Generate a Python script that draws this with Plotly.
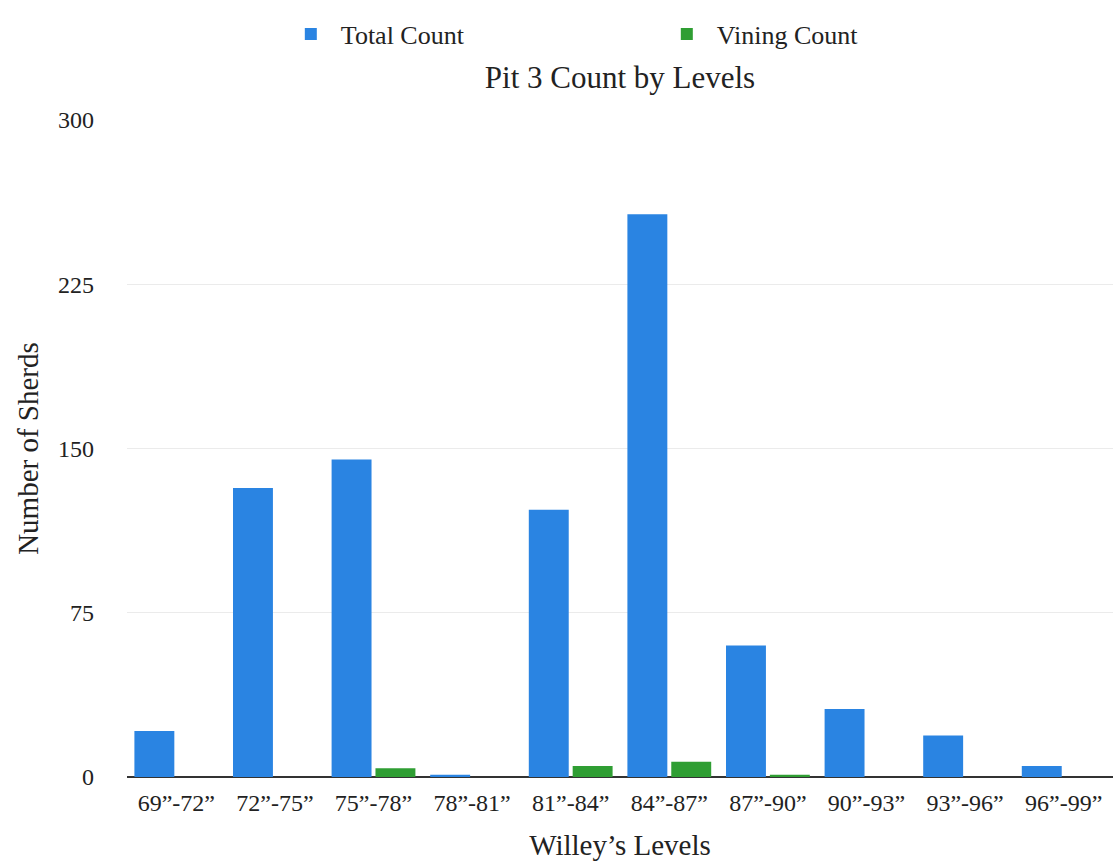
import plotly.graph_objects as go

levels = ["69”-72”", "72”-75”", "75”-78”", "78”-81”", "81”-84”",
          "84”-87”", "87”-90”", "90”-93”", "93”-96”", "96”-99”"]
total_count = [21, 132, 145, 1, 122, 257, 60, 31, 19, 5]
vining_count = [0, 0, 4, 0, 5, 7, 1, 0, 0, 0]
y_ticks = [0, 75, 150, 225, 300]

FONT = "Liberation Serif"
INK = "#222222"

fig = go.Figure()
fig.add_trace(go.Bar(
    x=levels, y=total_count, name="Total Count",
    marker=dict(color="#2a84e2", line=dict(width=0)),
))
fig.add_trace(go.Bar(
    x=levels, y=vining_count, name="Vining Count",
    marker=dict(color="#2f9e33", line=dict(width=0)),
))

fig.update_layout(
    width=1113, height=861,
    paper_bgcolor="white", plot_bgcolor="white",
    margin=dict(l=127, r=0, t=120, b=84),
    barmode="group", bargap=0.11, bargroupgap=0.09,
    font=dict(family=FONT, size=22, color=INK),
    title=dict(text="Pit 3 Count by Levels", x=0.5, xref="paper",
               y=1 - 77 / 861, yref="container", yanchor="middle",
               xanchor="center", font=dict(family=FONT, size=31, color=INK)),
    legend=dict(orientation="h", x=0.156, xanchor="left", y=1 - 34 / 861,
                yref="container", yanchor="middle", entrywidth=311,
                itemwidth=50,
                font=dict(family=FONT, size=26, color=INK),
                itemsizing="constant"),
    showlegend=True,
)
fig.update_xaxes(
    title=dict(text="Willey’s Levels", font=dict(family=FONT, size=29, color=INK),
               standoff=20),
    tickfont=dict(family=FONT, size=24, color=INK),
    showgrid=False, showline=False, ticks="", ticklen=0,
    ticklabelstandoff=9, automargin=False,
)
fig.update_yaxes(
    range=[0, 300], tickvals=y_ticks,
    title=dict(text="Number of Sherds", font=dict(family=FONT, size=29, color=INK),
               standoff=10),
    tickfont=dict(family=FONT, size=24, color=INK),
    showgrid=True, gridcolor="#ebebeb", gridwidth=1,
    zeroline=True, zerolinecolor="#333333", zerolinewidth=2,
    showline=False, ticks="", ticklabelstandoff=32, automargin=False,
)

fig.write_html("out.html")
